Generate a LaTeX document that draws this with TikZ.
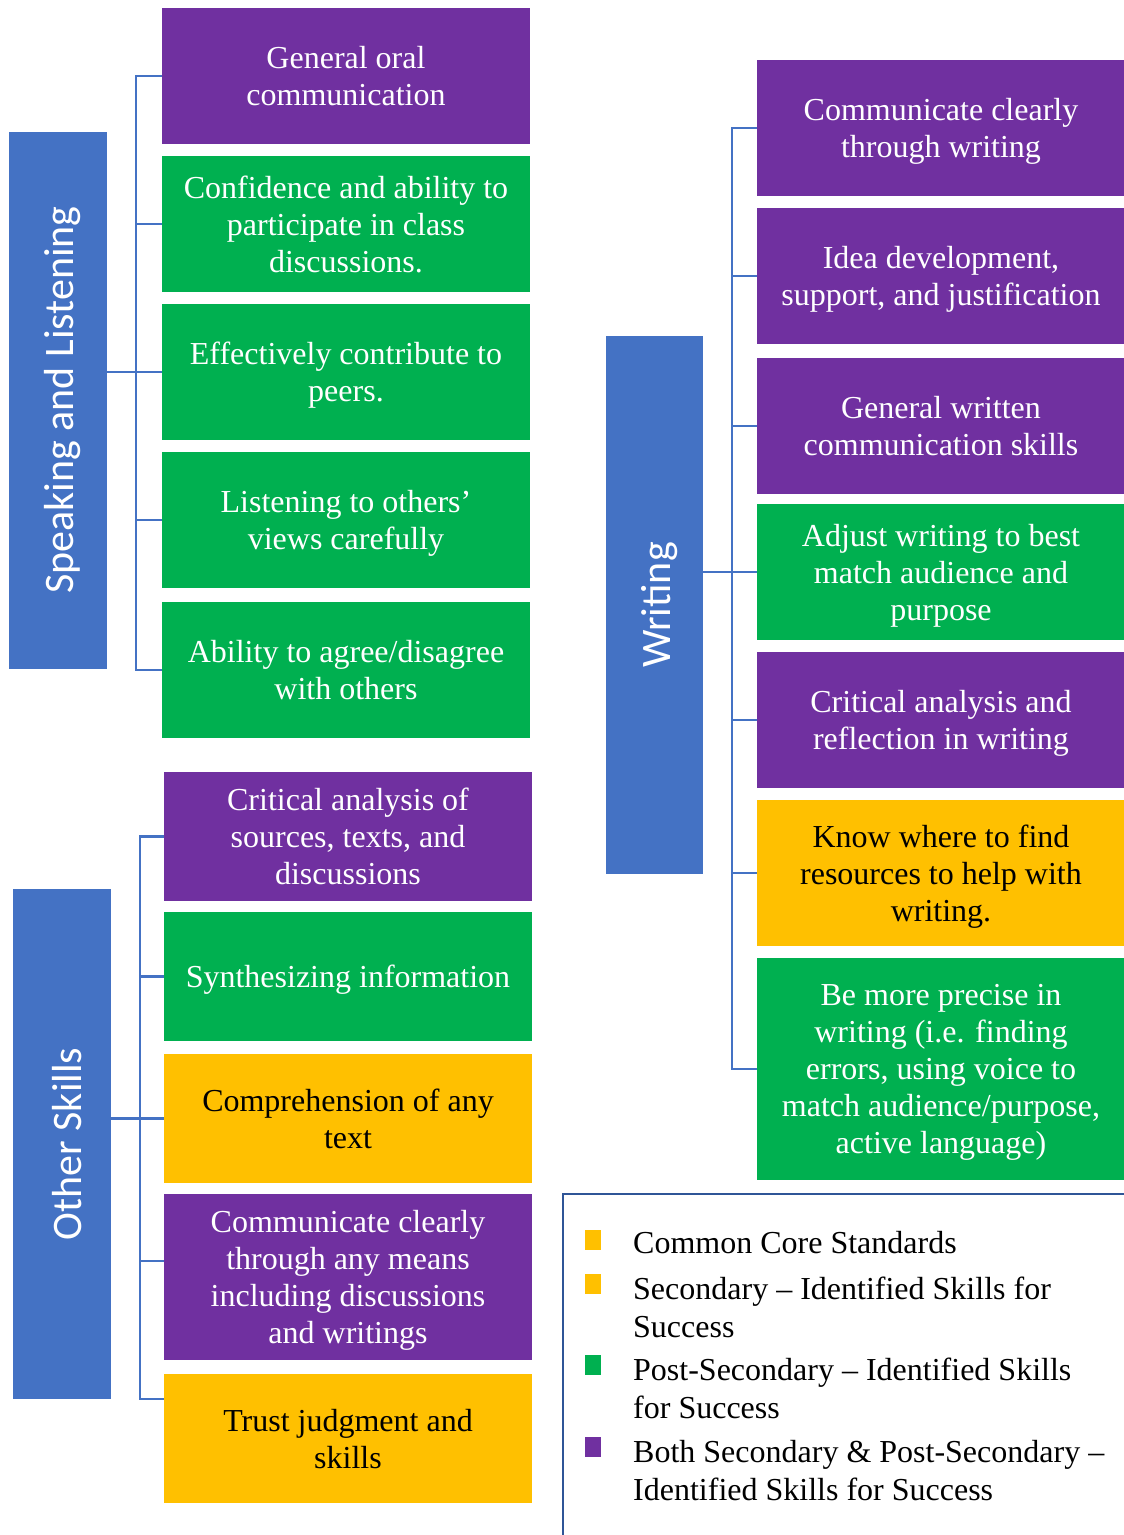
\documentclass[tikz,border=0pt]{standalone}
\usepackage{fontspec}
\setmainfont{Liberation Serif}
\newfontfamily\headfont{Carlito}
\usepackage{tikz}
\definecolor{skillpurple}{HTML}{7030A0}
\definecolor{skillgreen}{HTML}{00B050}
\definecolor{skillyellow}{HTML}{FFC000}
\definecolor{headblue}{HTML}{4472C4}
\definecolor{frameblue}{HTML}{2F5597}
\tikzstyle{skill}=[inner sep=0pt,minimum width=368pt,minimum height=136pt,align=center,font=\fontsize{32}{37}\selectfont,text depth=-4pt]
\tikzstyle{purp}=[skill,fill=skillpurple,text=white]
\tikzstyle{grn}=[skill,fill=skillgreen,text=white]
\tikzstyle{yel}=[skill,fill=skillyellow,text=black]
\tikzstyle{head}=[fill=headblue,text=white,inner sep=0pt,rotate=90,font=\headfont\fontsize{42}{50}\selectfont,execute at begin node={\rule{0pt}{39pt}}]
\tikzstyle{conn}=[draw=headblue,line width=2.5pt]
\tikzstyle{legmark}=[inner sep=0pt,minimum width=16pt,minimum height=20pt]
\tikzstyle{legtext}=[inner sep=0pt,anchor=west,align=left,font=\fontsize{32}{38}\selectfont]

\begin{document}
\begin{tikzpicture}[x=1pt,y=-1pt]
    \useasboundingbox (0,0) rectangle (1124,1535);
    \node [head,minimum width=537pt,minimum height=98pt] (slh) at (58,400) {Speaking and Listening};
    \node [purp] (sl1) at (346,76) {General oral\\communication};
    \node [grn] (sl2) at (346,224) {Confidence and ability to\\participate in class\\discussions.};
    \node [grn] (sl3) at (346,372) {Effectively contribute to\\peers.};
    \node [grn] (sl4) at (346,520) {Listening to others’\\views carefully};
    \node [grn] (sl5) at (346,670) {Ability to agree/disagree\\with others};
    \draw [conn] (sl1.west) -- ++(-26,0) |- (sl5.west);
    \foreach \b in {sl2,sl3,sl4} \draw [conn] (\b.west) -- ++(-26,0);
    \draw [conn] (slh.south |- sl3.west) -- (sl3.west);

    \node [head,minimum width=510pt,minimum height=98pt] (osh) at (62,1144) {Other Skills};
    \node [purp,minimum height=129pt] (os1) at (348,836.5) {Critical analysis of\\sources, texts, and\\discussions};
    \node [grn,minimum height=129pt] (os2) at (348,976.5) {Synthesizing information};
    \node [yel,minimum height=129pt] (os3) at (348,1118.5) {Comprehension of any\\text};
    \node [purp,minimum height=166pt] (os4) at (348,1277) {Communicate clearly\\through any means\\including discussions\\and writings};
    \node [yel,minimum height=129pt] (os5) at (348,1438.5) {Trust judgment and\\skills};
    \draw [conn] (os1.west) -- ++(-24,0) |- ([yshift=39.5pt]os5.west);
    \foreach \b in {os2,os3} \draw [conn] (\b.west) -- ++(-24,0);
    \draw [conn] ([yshift=16pt]os4.west) -- ++(-24,0);
    \draw [conn] (osh.south |- os3.west) -- (os3.west);

    \node [head,minimum width=538pt,minimum height=97pt] (wh) at (654.5,605) {Writing};
    \node [purp] (w1) at (941,128) {Communicate clearly\\through writing};
    \node [purp] (w2) at (941,276) {Idea development,\\support, and justification};
    \node [purp] (w3) at (941,426) {General written\\communication skills};
    \node [grn] (w4) at (941,572) {Adjust writing to best\\match audience and\\purpose};
    \node [purp] (w5) at (941,720) {Critical analysis and\\reflection in writing};
    \node [yel,minimum height=146pt] (w6) at (941,873) {Know where to find\\resources to help with\\writing.};
    \node [grn,minimum height=222pt] (w7) at (941,1069) {Be more precise in\\writing (i.e. finding\\errors, using voice to\\match audience/purpose,\\active language)};
    \draw [conn] (w1.west) -- ++(-25,0) |- (w7.west);
    \foreach \b in {w2,w3,w4,w5,w6} \draw [conn] (\b.west) -- ++(-25,0);
    \draw [conn] (wh.south |- w4.west) -- (w4.west);

    \draw [frameblue,line width=2pt] (563,1535) -- (563,1194) -- (1124,1194);
    \node [legmark,fill=skillyellow] (k1) at (593,1240) {};
    \node [legmark,fill=skillyellow] (k2) at (593,1284) {};
    \node [legmark,fill=skillgreen] (k3) at (593,1365) {};
    \node [legmark,fill=skillpurple] (k4) at (593,1447) {};
    \node [legtext] (l1) at (633,1243) {Common Core Standards};
    \node [legtext] (l2) at (633,1307) {Secondary – Identified Skills for\\Success};
    \node [legtext] (l3) at (633,1388) {Post-Secondary – Identified Skills\\for Success};
    \node [legtext] (l4) at (633,1471) {Both Secondary \& Post-Secondary –\\Identified Skills for Success};
\end{tikzpicture}
\end{document}
